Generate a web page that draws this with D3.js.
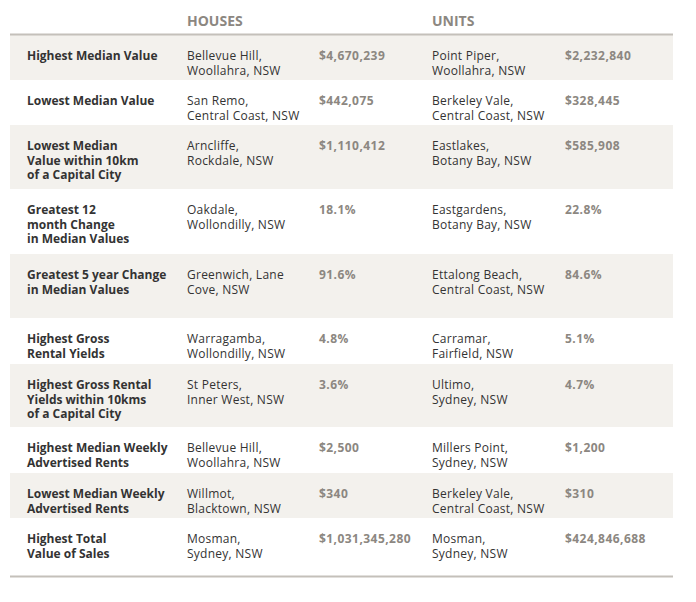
<!DOCTYPE html>
<html><head><meta charset="utf-8">
<script src="https://cdn.jsdelivr.net/npm/d3@7"></script>
<style>
html,body{margin:0;padding:0;background:#fff;}
svg{display:block;}
</style></head>
<body>
<script>
const metrics = [
  ["Highest Median Value"],
  ["Lowest Median Value"],
  ["Lowest Median","Value within 10km","of a Capital City"],
  ["Greatest 12","month Change","in Median Values"],
  ["Greatest 5 year Change","in Median Values"],
  ["Highest Gross","Rental Yields"],
  ["Highest Gross Rental","Yields within 10kms","of a Capital City"],
  ["Highest Median Weekly","Advertised Rents"],
  ["Lowest Median Weekly","Advertised Rents"],
  ["Highest Total","Value of Sales"]
];
const housePlaces = [
  ["Bellevue Hill,","Woollahra, NSW"],
  ["San Remo,","Central Coast, NSW"],
  ["Arncliffe,","Rockdale, NSW"],
  ["Oakdale,","Wollondilly, NSW"],
  ["Greenwich, Lane","Cove, NSW"],
  ["Warragamba,","Wollondilly, NSW"],
  ["St Peters,","Inner West, NSW"],
  ["Bellevue Hill,","Woollahra, NSW"],
  ["Willmot,","Blacktown, NSW"],
  ["Mosman,","Sydney, NSW"]
];
const houseValues = ["$4,670,239","$442,075","$1,110,412","18.1%","91.6%","4.8%","3.6%","$2,500","$340","$1,031,345,280"];
const unitPlaces = [
  ["Point Piper,","Woollahra, NSW"],
  ["Berkeley Vale,","Central Coast, NSW"],
  ["Eastlakes,","Botany Bay, NSW"],
  ["Eastgardens,","Botany Bay, NSW"],
  ["Ettalong Beach,","Central Coast, NSW"],
  ["Carramar,","Fairfield, NSW"],
  ["Ultimo,","Sydney, NSW"],
  ["Millers Point,","Sydney, NSW"],
  ["Berkeley Vale,","Central Coast, NSW"],
  ["Mosman,","Sydney, NSW"]
];
const unitValues = ["$2,232,840","$328,445","$585,908","22.8%","84.6%","5.1%","4.7%","$1,200","$310","$424,846,688"];
const headers = ["HOUSES","UNITS"];

// layout (not data)
const rowTops = [35,80,125,189,254,318,364,427,473,518];
const tableBottom = 576;
const W = 696, H = 602;
const left = 10, right = 673;
const colX = [27,187,319,432,565];
const lineH = 14.6;
const firstBase = 25;

const svg = d3.select("body").append("svg").attr("width",W).attr("height",H);
const font = "'Open Sans', sans-serif";

const n = metrics.length;
const rows = d3.range(n).map(i => ({
  i, top: rowTops[i], bottom: i < n-1 ? rowTops[i+1] : tableBottom,
  metric: metrics[i], hp: housePlaces[i], hv: houseValues[i], up: unitPlaces[i], uv: unitValues[i]
}));

svg.selectAll("rect.band").data(rows.filter(r => r.i % 2 === 0)).join("rect")
  .attr("class","band")
  .attr("x",left).attr("width",right-left)
  .attr("y",r=>r.top).attr("height",r=>r.bottom-r.top)
  .attr("fill","#f3f1ed");

svg.append("line").attr("x1",left).attr("x2",right).attr("y1",34.5).attr("y2",34.5)
  .attr("stroke","#c4c0ba").attr("stroke-width",2);
svg.append("line").attr("x1",left).attr("x2",right).attr("y1",576.5).attr("y2",576.5)
  .attr("stroke","#c4c0ba").attr("stroke-width",2);

svg.selectAll("text.hdr").data(headers).join("text")
  .attr("class","hdr")
  .attr("x",(d,i)=> i===0 ? colX[1] : colX[3]).attr("y",26)
  .attr("font-family",font).attr("font-weight",700).attr("font-size",14)
  .attr("fill","#8c8781").text(d=>d);

function multi(sel, getLines, x, weight, color, ls){
  const t = sel.append("text")
    .attr("x",x).attr("y",r=>r.top+firstBase)
    .attr("font-family",font).attr("font-weight",weight).attr("font-size",12)
    .attr("letter-spacing",ls)
    .attr("fill",color);
  t.each(function(r){
    d3.select(this).selectAll("tspan").data(getLines(r)).join("tspan")
      .attr("x",x).attr("dy",(d,j)=> j===0 ? 0 : lineH).text(d=>d);
  });
}

const g = svg.selectAll("g.row").data(rows).join("g").attr("class","row");
multi(g, r=>r.metric, colX[0], 700, "#333333", 0);
multi(g, r=>r.hp, colX[1], 400, "#333333", 0.25);
multi(g, r=>[r.hv], colX[2], 700, "#8c8781", 0.45);
multi(g, r=>r.up, colX[3], 400, "#333333", 0.25);
multi(g, r=>[r.uv], colX[4], 700, "#8c8781", 0.45);
</script>
</body></html>
